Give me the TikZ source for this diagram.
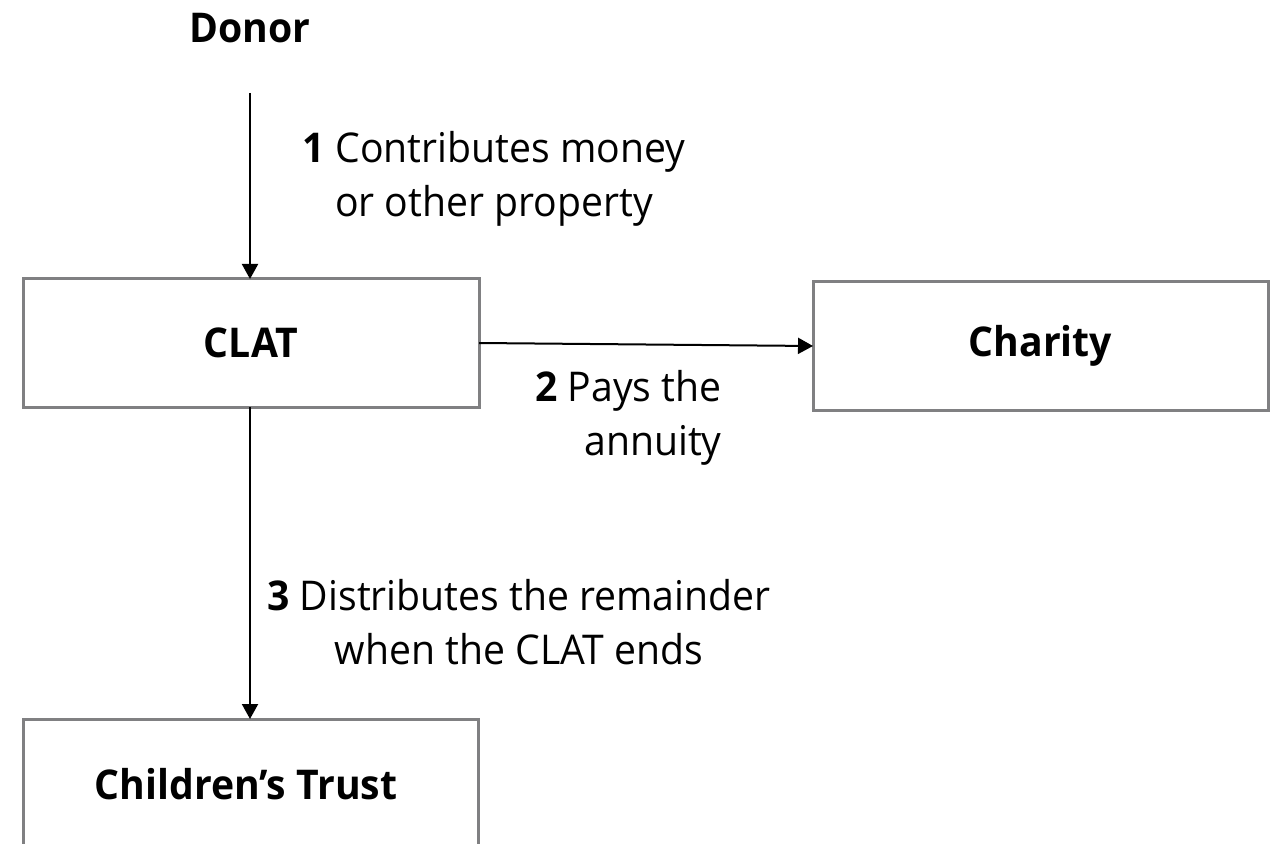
\documentclass[tikz,border=0pt]{standalone}
\usepackage{fontspec}
\setmainfont[FakeStretch=0.955]{Open Sans}
\usetikzlibrary{arrows.meta}
\definecolor{boxgray}{RGB}{128,128,130}
\tikzset{
  px/.style={x=0.5pt,y=-0.5pt},
  box/.style={draw=boxgray,line width=1.5pt,fill=white,outer sep=0pt,inner sep=0pt,
    font=\fontsize{20.5}{27}\selectfont\bfseries},
  flow/.style={draw=black,line width=1pt,-{Triangle[width=8pt,length=7.5pt]}},
  lbl/.style={inner sep=0pt,font=\fontsize{20.5}{27}\selectfont},
  head/.style={inner sep=0pt,font=\fontsize{20.5}{27}\selectfont\bfseries}
}
\begin{document}
\begin{tikzpicture}[px]
\useasboundingbox[fill=white] (0,0) rectangle (1277,844);
\node[head,anchor=base] (donor) at (250,43) {Donor};
\coordinate (d0) at (250,93);
\node[box,minimum width=456*0.5pt,minimum height=128*0.5pt] (clat) at (251,343) {CLAT};
\node[box,minimum width=455*0.5pt,minimum height=128*0.5pt] (charity) at (1040.5,346) {Charity};
\node[box,minimum width=455*0.5pt,minimum height=180*0.5pt,anchor=north] (trust) at (250.5,719) {};
\node[head,anchor=base] (trusttxt) at (246,799) {Children’s Trust};
\draw[flow] (d0) -- (d0 |- clat.north);
\draw[flow] (clat.east) -- (charity.west);
\draw[flow] (clat.south -| d0) -- (trust.north -| d0);
\node[lbl,align=center,anchor=base] (l1) at (494,217) {\textbf{1} Contributes money\\or other property};
\node[lbl,align=right,anchor=base east] (l2) at (722,455) {\textbf{2} Pays the\\annuity};
\node[lbl,align=center,anchor=base] (l3) at (519,664) {\textbf{3} Distributes the remainder\\when the CLAT ends};
\end{tikzpicture}
\end{document}
